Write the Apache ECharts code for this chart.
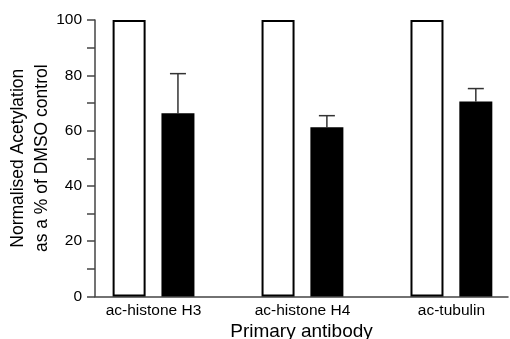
<!DOCTYPE html>
<html>
<head>
<meta charset="utf-8">
<script src="https://cdn.jsdelivr.net/npm/echarts@6/dist/echarts.min.js"></script>
<style>
  html, body { margin: 0; padding: 0; background: #fff; }
  #chart { width: 510px; height: 339px; }
</style>
</head>
<body>
<div id="chart"></div>
<script>
// antibody groups
const categories = ['ac-histone H3', 'ac-histone H4', 'ac-tubulin']
// DMSO control (normalised to 100)
const dmsoValues = [100, 100, 100]
// treated, % of DMSO
const treatedValues = [66.3, 61.2, 70.5]
// upper error (SEM)
const treatedErrors = [14.3, 4.2, 4.7]
const yTicks = [0, 20, 40, 60, 80, 100]

const BAR_W = 33
const GAP = 0.48

const chart = echarts.init(document.getElementById('chart'))

const font = 'Liberation Sans, Arial, sans-serif'

const option = {
  animation: false,
  grid: { left: 95, right: 2, top: 20, bottom: 42.5, outerBoundsMode: 'none', containLabel: false },
  xAxis: {
    type: 'value',
    min: -0.393,
    max: 2.38,
    splitLine: { show: false },
    axisTick: { show: false },
    axisLine: { onZero: false, lineStyle: { color: '#444', width: 1.5 } },
    axisLabel: {
      customValues: categories.map((c, i) => i),
      formatter: v => categories[Math.round(v)],
      color: '#000',
      fontSize: 15.5,
      fontFamily: font,
      margin: 6
    },
    name: 'Primary antibody',
    nameLocation: 'middle',
    nameGap: 26,
    nameMoveOverlap: false,
    nameTextStyle: { color: '#000', fontSize: 19, fontFamily: font }
  },
  yAxis: {
    type: 'value',
    min: 0,
    max: 100,
    interval: 10,
    splitLine: { show: false },
    axisLine: { show: true, onZero: false, lineStyle: { color: '#444', width: 1.5 } },
    axisTick: { show: true, length: 8, lineStyle: { color: '#444', width: 1.5 } },
    axisLabel: {
      formatter: v => (yTicks.includes(v) ? String(v) : ''),
      color: '#000',
      fontSize: 15.5,
      fontFamily: font,
      margin: 13
    },
    name: 'Normalised Acetylation\nas a % of DMSO control',
    nameLocation: 'middle',
    nameGap: 41,
    nameMoveOverlap: false,
    nameTextStyle: { color: '#000', fontSize: 17.5, fontFamily: font, lineHeight: 24 }
  },
  series: [
    {
      name: 'DMSO',
      type: 'bar',
      barWidth: BAR_W,
      barGap: (GAP * 100) + '%',
      data: dmsoValues.map((v, i) => [i, v]),
      itemStyle: { color: '#fff', borderColor: '#000', borderWidth: 2 }
    },
    {
      name: 'Treated',
      type: 'bar',
      barWidth: BAR_W,
      barGap: (GAP * 100) + '%',
      data: treatedValues.map((v, i) => [i, v]),
      itemStyle: { color: '#000' }
    },
    {
      name: 'error',
      type: 'custom',
      data: treatedValues.map((v, i) => [i, v, treatedErrors[i]]),
      renderItem: (params, api) => {
        const i = api.value(0)
        const mean = api.value(1)
        const err = api.value(2)
        const shift = (BAR_W + BAR_W * GAP) / 2
        const base = api.coord([i, mean])
        const top = api.coord([i, mean + err])
        const x = base[0] + shift
        const style = { stroke: '#333', lineWidth: 1.5 }
        return {
          type: 'group',
          children: [
            { type: 'line', shape: { x1: x, y1: base[1], x2: x, y2: top[1] }, style },
            { type: 'line', shape: { x1: x - 8, y1: top[1], x2: x + 8, y2: top[1] }, style }
          ]
        }
      }
    }
  ]
}

chart.setOption(option)
</script>
</body>
</html>
